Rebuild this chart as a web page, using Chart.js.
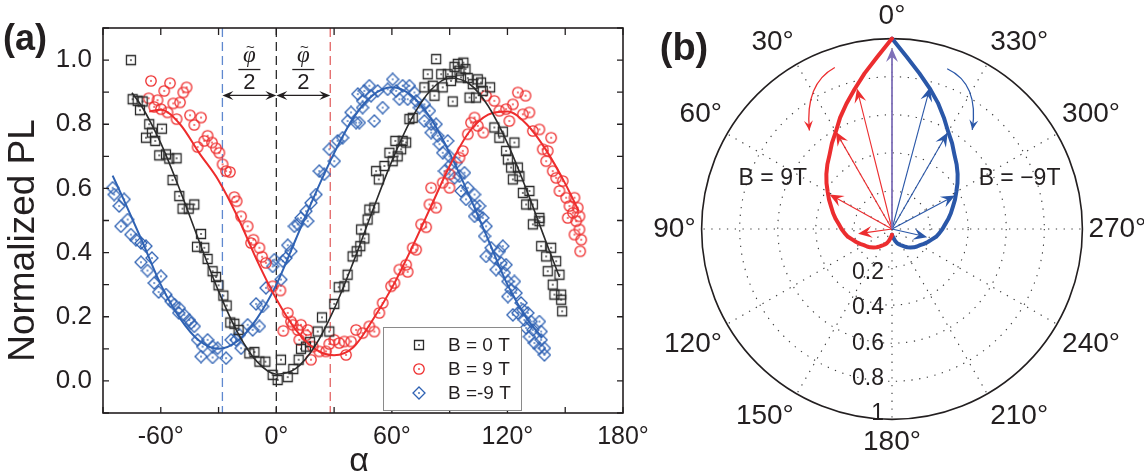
<!DOCTYPE html>
<html>
<head>
<meta charset="utf-8">
<script src="https://cdn.jsdelivr.net/npm/chart.js@4.4.0/dist/chart.umd.min.js"></script>
<style>
  html, body { margin: 0; padding: 0; background: #fff; width: 1144px; height: 475px; overflow: hidden; }
  #wrapA { position: absolute; left: 0; top: 0; }
  #wrapB { position: absolute; left: 640px; top: 0; }
</style>
</head>
<body>
<div id="wrapA"><canvas id="chartA" width="665" height="475"></canvas></div>
<div id="wrapB"><canvas id="chartB" width="520" height="460"></canvas></div>
<script>
// ---------- panel (a): measured points ----------
const alpha0T = [-75.5,-74.6,-72,-69.4,-70.8,-66,-59.4,-64.6,-67.7,-62.9,
  -60.8,-57.3,-55.6,-51.8,-53.9,-50.4,-48.7,-45.5,-42.6,-39.1,
  -41.2,-37.4,-35.7,-33.1,-31.3,-30,-27.5,-25.8,-23.9,-21.8,
  -19.6,-14,-11.4,-8.8,-5.7,-1.9,0.7,2.4,5.9,8.8,
  11.6,12.8,15.4,17.5,21.5,23.7,27.5,30.1,32.4,35.3,
  37,39.6,41.7,44,47.4,45.7,43.6,48.3,50.9,53.2,
  51.8,56.1,60.4,58.7,63,61.8,64.8,67.4,65.6,69.1,
  70.8,78.6,76.9,81.2,82.1,85.6,83,86.4,89,90.7,
  91.6,92.5,94.2,97.1,98.2,95.1,95.9,99.4,100.3,102,
  103.7,104.6,106.3,107.2,111,113.2,115.8,117.6,119.3,123.6,
  120.2,121.9,122.8,125.4,126.2,128,131.4,129.7,133.2,136.6,
  133.2,136.6,137.5,142.7,140.1,145.3,140.9,147,143.5,147.9,
  144.4,147.9,148.4];
const pl0T = [1.0,0.878,0.873,0.871,0.844,0.80,0.786,0.774,0.758,0.748,
  0.703,0.706,0.693,0.694,0.626,0.576,0.537,0.537,0.55,0.458,
  0.418,0.415,0.38,0.342,0.324,0.298,0.266,0.235,0.182,0.178,
  0.159,0.086,0.09,0.06,0.06,0.019,0.003,0.066,0.012,0.037,
  0.066,0.10,0.107,0.121,0.154,0.198,0.154,0.24,0.292,0.295,
  0.331,0.388,0.404,0.472,0.503,0.444,0.42,0.534,0.54,0.628,
  0.654,0.67,0.685,0.711,0.70,0.748,0.722,0.743,0.748,0.816,
  0.82,0.956,0.915,0.92,0.889,0.956,1.003,0.915,0.956,0.935,
  0.871,0.979,0.988,0.992,0.972,0.967,0.946,0.944,0.883,0.925,
  0.883,0.94,0.93,0.904,0.915,0.79,0.758,0.777,0.717,0.743,
  0.69,0.665,0.628,0.665,0.638,0.586,0.592,0.55,0.55,0.508,
  0.488,0.498,0.42,0.415,0.388,0.373,0.342,0.331,0.30,0.269,
  0.269,0.253,0.217];

const alpha9T = [-65.1,-55.2,-46.6,-48.3,-58.2,-66.3,-61.7,-63.4,-59.9,-53.5,
  -50,-56.5,-51.8,-44.8,-39.1,-42.6,-35.7,-37.4,-33.4,-31.3,
  -40.9,-29.6,-27.9,-24.1,-26.1,-21.8,-20.6,-18.3,-14.9,-11.9,
  -13.1,-8.8,-7.4,-5.4,-1.9,2.1,5.9,7.6,3.6,8.5,
  12.8,11.1,16.3,11.9,15.4,18.9,18,22.3,25.8,27.5,
  30.1,32.7,36.2,35.3,38.8,41.4,44.8,50.9,48.3,53.5,
  55.2,59.6,61.3,63.9,67.4,68.2,72.6,70.8,75.2,77.8,
  80.4,83,79.5,86.4,89.9,89.9,95.1,96.8,99.4,101.1,
  102.9,104.6,107.5,108.9,113.2,115.8,121,119.3,122.8,125.4,
  129.4,128,131.4,133.2,136.6,142.7,138.3,140.9,140.1,143.5,
  145.3,148.7,147,150.5,152.2,154.8,156.5,154,157.4,151.3,
  155.7,157.4,154.8,158.3,157.8];
const pl9T = [0.935,0.928,0.915,0.899,0.904,0.881,0.875,0.854,0.847,0.865,
  0.868,0.837,0.816,0.828,0.821,0.798,0.764,0.748,0.743,0.725,
  0.729,0.711,0.675,0.651,0.654,0.573,0.56,0.513,0.482,0.44,
  0.43,0.415,0.387,0.368,0.295,0.282,0.212,0.185,0.156,0.175,
  0.175,0.159,0.159,0.128,0.142,0.107,0.066,0.092,0.092,0.115,
  0.128,0.118,0.081,0.123,0.123,0.159,0.149,0.154,0.17,0.212,
  0.243,0.295,0.305,0.347,0.362,0.34,0.409,0.415,0.488,0.479,
  0.602,0.54,0.55,0.618,0.602,0.644,0.696,0.717,0.769,0.805,
  0.821,0.795,0.774,0.889,0.873,0.842,0.81,0.847,0.862,0.899,
  0.889,0.831,0.837,0.779,0.784,0.758,0.722,0.717,0.685,0.654,
  0.633,0.623,0.592,0.571,0.545,0.571,0.54,0.524,0.513,0.508,
  0.498,0.472,0.456,0.44,0.404];

const alphaM9T = [-85,-84.2,-81.6,-79,-80.7,-77.2,-75.5,-72.9,-70.3,-67.7,
  -70.3,-66.9,-64.6,-63.4,-59.9,-61.1,-57.3,-54.7,-53,-50.4,
  -50.7,-47.8,-45.2,-42.6,-44.3,-40.9,-35.7,-38.3,-33.1,-39.1,
  -33.1,-30.5,-26.1,-23.5,-20.9,-18.3,-19.2,-14.9,-12.3,-8.8,
  -10.5,-7.1,-5.4,-1.9,-1,2.4,5,3.3,5.9,7.6,
  9.4,11.1,12.8,16.3,15.4,18,20.6,22.3,24.9,27.5,
  30.1,31.8,34.4,37,38.8,41.4,42.3,44.8,43.1,45.7,
  48.3,49.2,44.8,50.9,52.6,55.2,57.8,60.4,62.2,63.9,
  65.6,69.1,68.2,71.7,72.6,74.3,76.9,79.5,76.9,80.4,
  83,80.4,83.8,84.7,89,86.4,89.9,87.3,90.7,93.4,
  92.5,95.1,97.7,95.9,99.4,98.5,102.9,102.9,105.5,104.6,
  102.9,107.2,108.9,108.1,111.5,108.9,113.2,115.8,117.6,116.7,
  114.1,119.3,118.4,120.2,123.6,121.9,120.2,124.5,127.1,122.8,
  125.4,128,130.6,128.8,132.3,136.6,129.7,133.2,137.5,131.4,
  134,137.5,139.2,136.6,139.2];
const plM9T = [0.602,0.581,0.545,0.566,0.482,0.503,0.456,0.44,0.43,0.42,
  0.37,0.344,0.383,0.305,0.326,0.277,0.269,0.248,0.238,0.227,
  0.212,0.206,0.19,0.17,0.18,0.128,0.128,0.107,0.107,0.076,
  0.073,0.102,0.071,0.128,0.128,0.102,0.144,0.175,0.159,0.17,
  0.24,0.232,0.29,0.357,0.378,0.316,0.383,0.373,0.423,0.404,
  0.482,0.488,0.508,0.498,0.529,0.555,0.581,0.654,0.644,0.722,
  0.685,0.748,0.758,0.81,0.837,0.805,0.894,0.873,0.805,0.904,
  0.92,0.889,0.852,0.81,0.904,0.852,0.909,0.94,0.904,0.878,
  0.92,0.92,0.878,0.899,0.873,0.852,0.862,0.842,0.81,0.8,
  0.8,0.774,0.764,0.738,0.748,0.711,0.70,0.654,0.675,0.68,
  0.633,0.638,0.649,0.592,0.602,0.566,0.581,0.545,0.545,0.519,
  0.513,0.508,0.482,0.451,0.415,0.388,0.383,0.404,0.42,0.368,
  0.347,0.362,0.337,0.31,0.31,0.284,0.263,0.274,0.243,0.206,
  0.212,0.222,0.212,0.19,0.185,0.185,0.165,0.159,0.154,0.138,
  0.118,0.128,0.102,0.102,0.081];

// fitted curves
const fitAlpha0T = [-75,-70,-60,-50,-40,-30,-20,-10,0,10,20,30,40,50,60,70,80,90,100,110,120,130,140,147];
const fit0T = [0.898,0.857,0.741,0.594,0.434,0.28,0.15,0.06,0.021,0.038,0.108,0.224,0.371,0.531,0.685,0.815,0.905,0.944,0.927,0.857,0.741,0.594,0.434,0.324];
const fitAlpha9T = [-66,-60,-50,-40,-30,-20,-10,0,10,20,30,40,50,60,70,80,90,100,110,120,130,140,150,157];
const fit9T = [0.84,0.845,0.80,0.71,0.625,0.51,0.375,0.255,0.16,0.10,0.08,0.105,0.19,0.29,0.41,0.54,0.67,0.775,0.83,0.84,0.80,0.72,0.615,0.53];
const fitAlphaM9T = [-85,-80,-70,-60,-50,-40,-30,-20,-10,0,10,20,30,40,50,60,70,80,90,100,110,120,130,138];
const fitM9T = [0.64,0.575,0.44,0.30,0.195,0.125,0.10,0.125,0.195,0.30,0.44,0.58,0.71,0.82,0.89,0.915,0.89,0.82,0.71,0.58,0.44,0.30,0.195,0.135];

const seriesNames = ['B = 0 T', 'B = 9 T', 'B =-9 T'];
const seriesColors = ['#2b2b2b', '#ee2c2c', '#2f62b3'];
const guideAlpha = [-28, 0, 28];
const guideColors = ['#5f88cf', '#2b2b2b', '#e36464'];
const arrowLevel = 0.89;
const phiLabelAlpha = [-14, 14];

// ---------- panel (b): polar lobes ----------
const polarStep = 5;
const polarTickAngles = [0, 30, 60, 90, 120, 150, 180, 210, 240, 270, 300, 330];
const ringValues = [0.2, 0.4, 0.6, 0.8, 1];
const lobeAngles = [0,5,10,15,20,25,30,35,40,45,50,55,60,65,70,75,80,85,90,95,100,105,110,115,120,125,130,135,140,145,150,155,160,165,170,175,180];
const redLobe = [1.0,0.905,0.83,0.76,0.70,0.645,0.59,0.55,0.51,0.48,0.45,0.42,0.39,0.365,0.34,0.32,0.30,0.28,0.265,0.25,0.235,0.215,0.20,0.185,0.17,0.16,0.15,0.137,0.125,0.112,0.10,0.09,0.08,0.065,0.05,0.04,0.03];
const blueLobe = [1.0,0.905,0.83,0.765,0.705,0.645,0.59,0.55,0.51,0.48,0.45,0.42,0.39,0.365,0.34,0.32,0.30,0.28,0.265,0.25,0.235,0.215,0.20,0.185,0.17,0.16,0.15,0.137,0.125,0.112,0.10,0.09,0.08,0.065,0.05,0.04,0.03];
// arrows: angle (deg, counter-clockwise from top) and length
const redArrowAngles = [14, 30, 61, 98];
const redArrowLengths = [0.76, 0.59, 0.375, 0.18];
const blueArrowAngles = [-15, -30, -62, -103];
const blueArrowLengths = [0.77, 0.585, 0.375, 0.19];
const centerArrow = [0, 0.95];

const FONT = "'Liberation Sans', Arial, Helvetica, sans-serif";
const INK = '#231f20';
Chart.defaults.font.family = FONT;
Chart.defaults.color = INK;

// hollow markers with a dot in the middle
function makeMarker(shape, color) {
  const c = document.createElement('canvas');
  c.width = 14; c.height = 14;
  const g = c.getContext('2d');
  g.strokeStyle = color; g.fillStyle = color; g.lineWidth = 1.3;
  g.beginPath();
  if (shape === 'square') g.rect(2.5, 2.5, 9, 9);
  else if (shape === 'circle') g.arc(7, 7, 5.2, 0, Math.PI * 2);
  else { g.moveTo(7, 1); g.lineTo(13, 7); g.lineTo(7, 13); g.lineTo(1, 7); g.closePath(); }
  g.stroke();
  g.fillRect(6.2, 6.2, 1.6, 1.6);
  return c;
}
const markers = [makeMarker('square', seriesColors[0]), makeMarker('circle', seriesColors[1]), makeMarker('diamond', seriesColors[2])];

function arrowHead(ctx, x, y, ang, len, half, color) {
  ctx.save();
  ctx.translate(x, y);
  ctx.rotate(ang);
  ctx.fillStyle = color;
  ctx.beginPath();
  ctx.moveTo(0, 0);
  ctx.lineTo(-len, -half);
  ctx.lineTo(-len * 0.62, 0);
  ctx.lineTo(-len, half);
  ctx.closePath();
  ctx.fill();
  ctx.restore();
}

const pts = (xs, ys) => xs.map((v, i) => ({ x: v, y: ys[i] }));

const panelA = {
  id: 'panelA',
  beforeDatasetsDraw(chart) {
    const { ctx, chartArea: a, scales: { x } } = chart;
    ctx.save();
    ctx.lineWidth = 1.3;
    ctx.setLineDash([9, 5]);
    guideAlpha.forEach((g, i) => {
      const px = x.getPixelForValue(g);
      ctx.strokeStyle = guideColors[i];
      ctx.beginPath(); ctx.moveTo(px, a.top); ctx.lineTo(px, a.bottom); ctx.stroke();
    });
    ctx.restore();
  },
  afterDraw(chart) {
    const { ctx, chartArea: a, scales: { x, y } } = chart;
    ctx.save();
    // frame + inward ticks
    ctx.strokeStyle = INK;
    ctx.lineWidth = 1.6;
    ctx.strokeRect(a.left, a.top, a.right - a.left, a.bottom - a.top);
    ctx.lineWidth = 1.3;
    ctx.beginPath();
    x.ticks.forEach(t => {
      const px = x.getPixelForValue(t.value);
      ctx.moveTo(px, a.bottom); ctx.lineTo(px, a.bottom - 6);
      ctx.moveTo(px, a.top); ctx.lineTo(px, a.top + 7);
    });
    y.ticks.forEach(t => {
      const py = y.getPixelForValue(t.value);
      ctx.moveTo(a.left, py); ctx.lineTo(a.left + 6, py);
      ctx.moveTo(a.right, py); ctx.lineTo(a.right - 6, py);
    });
    ctx.stroke();

    // phi/2 arrows
    const ay = y.getPixelForValue(arrowLevel);
    ctx.lineWidth = 1.2;
    for (let i = 0; i < guideAlpha.length - 1; i++) {
      const x0 = x.getPixelForValue(guideAlpha[i]);
      const x1 = x.getPixelForValue(guideAlpha[i + 1]);
      ctx.beginPath(); ctx.moveTo(x0 + 5, ay); ctx.lineTo(x1 - 5, ay); ctx.stroke();
      arrowHead(ctx, x0, ay, Math.PI, 11, 4.5, INK);
      arrowHead(ctx, x1, ay, 0, 11, 4.5, INK);
    }
    ctx.fillStyle = INK;
    ctx.textAlign = 'center';
    ctx.textBaseline = 'alphabetic';
    phiLabelAlpha.forEach(al => {
      const cx = x.getPixelForValue(al);
      ctx.font = "italic 23px 'Liberation Serif', 'DejaVu Serif', serif";
      ctx.fillText('\u03c6', cx, ay - 33);
      ctx.font = '15px ' + FONT;
      ctx.fillText('~', cx + 1, ay - 43);
      ctx.fillRect(cx - 11, ay - 26.5, 22, 1.3);
      ctx.font = '22px ' + FONT;
      ctx.fillText('2', cx, ay - 6);
    });

    // legend
    const lx = 383, ly = 327, lw = 138, lh = 83;
    ctx.fillStyle = '#fff';
    ctx.fillRect(lx, ly, lw, lh);
    ctx.strokeStyle = '#8a8a8a';
    ctx.lineWidth = 1;
    ctx.strokeRect(lx + 0.5, ly + 0.5, lw, lh);
    ctx.textAlign = 'left';
    ctx.textBaseline = 'middle';
    ctx.font = '19px ' + FONT;
    seriesNames.forEach((name, i) => {
      const ry = ly + 18 + i * 24;
      ctx.drawImage(markers[i], lx + 36 - 7, ry - 7);
      ctx.fillStyle = INK;
      ctx.fillText(name, lx + 65, ry + 1);
    });

    // axis titles and panel letter
    ctx.fillStyle = INK;
    ctx.textAlign = 'center';
    ctx.font = '34px ' + FONT;
    ctx.fillText('\u03b1', (a.left + a.right) / 2 - 4, 462);
    ctx.save();
    ctx.translate(24, (a.top + a.bottom) / 2 + 20);
    ctx.rotate(-Math.PI / 2);
    ctx.font = '37px ' + FONT;
    ctx.fillText('Normalized PL', 0, 0);
    ctx.restore();
    ctx.font = 'bold 36px ' + FONT;
    ctx.fillText('(a)', 25, 40);
    ctx.restore();
  }
};

new Chart(document.getElementById('chartA'), {
  type: 'scatter',
  data: {
    datasets: [
      { data: pts(fitAlpha0T, fit0T), showLine: true, borderColor: seriesColors[0], borderWidth: 1.6, pointRadius: 0, cubicInterpolationMode: 'monotone' },
      { data: pts(fitAlpha9T, fit9T), showLine: true, borderColor: seriesColors[1], borderWidth: 2, pointRadius: 0, cubicInterpolationMode: 'monotone' },
      { data: pts(fitAlphaM9T, fitM9T), showLine: true, borderColor: seriesColors[2], borderWidth: 2, pointRadius: 0, cubicInterpolationMode: 'monotone' },
      { label: seriesNames[0], data: pts(alpha0T, pl0T), pointStyle: markers[0], pointRadius: 5 },
      { label: seriesNames[1], data: pts(alpha9T, pl9T), pointStyle: markers[1], pointRadius: 5 },
      { label: seriesNames[2], data: pts(alphaM9T, plM9T), pointStyle: markers[2], pointRadius: 5 }
    ]
  },
  options: {
    responsive: false,
    animation: false,
    layout: { padding: { top: 28, right: 42, left: 0, bottom: 0 } },
    plugins: { legend: { display: false }, tooltip: { enabled: false } },
    scales: {
      x: {
        min: -90, max: 180,
        afterFit: s => { s.height = 62; },
        grid: { display: false, drawTicks: false },
        border: { display: false },
        ticks: {
          stepSize: 30, autoSkip: false, maxRotation: 0, padding: 9,
          font: { size: 25 }, color: INK,
          callback: v => (v % 60 === 0 ? v + '\u00b0' : '')
        }
      },
      y: {
        min: -0.1, max: 1.1,
        afterFit: s => { s.width = 103; },
        grid: { display: false, drawTicks: false },
        border: { display: false },
        ticks: {
          stepSize: 0.1, autoSkip: false, padding: 11,
          font: { size: 26 }, color: INK,
          callback: v => {
            const n = Math.round(v * 10);
            return n >= 0 && n <= 10 && n % 2 === 0 ? (n / 10).toFixed(1) : '';
          }
        }
      }
    }
  },
  plugins: [panelA]
});

// ---------- panel (b) ----------
const polarLabels = [];
const redR = [];
const blueR = [];
for (let i = 0; i < 360 / polarStep; i++) {
  const ccw = (360 - i * polarStep) % 360;
  polarLabels.push(polarTickAngles.includes(ccw) ? ccw + '\u00b0' : '');
  const kr = lobeAngles.indexOf(ccw);
  redR.push(kr >= 0 ? redLobe[kr] : null);
  const kb = lobeAngles.indexOf(i * polarStep);
  blueR.push(kb >= 0 ? blueLobe[kb] : null);
}

const panelB = {
  id: 'panelB',
  afterDatasetsDraw(chart) {
    const { ctx } = chart;
    const s = chart.scales.r;
    const pos = (theta, r) => s.getPointPositionForValue((((-theta) % 360) + 360) % 360 / polarStep, r);
    const cx = s.xCenter, cy = s.yCenter;
    ctx.save();

    const straightArrow = (theta, r, color, width) => {
      const p = pos(theta, r);
      const ang = Math.atan2(p.y - cy, p.x - cx);
      ctx.strokeStyle = color;
      ctx.lineWidth = width;
      ctx.beginPath();
      ctx.moveTo(cx, cy);
      ctx.lineTo(p.x - 8 * Math.cos(ang), p.y - 8 * Math.sin(ang));
      ctx.stroke();
      arrowHead(ctx, p.x, p.y, ang, 14, 6, color);
    };
    redArrowAngles.forEach((t, i) => straightArrow(t, redArrowLengths[i], '#ec2d2f', 1.1));
    blueArrowAngles.forEach((t, i) => straightArrow(t, blueArrowLengths[i], '#2a57a8', 1.1));
    straightArrow(centerArrow[0], centerArrow[1], '#7f70b8', 1.8);

    // rotation sense arrows
    const curved = (a0, c0, e0, color) => {
      const p0 = pos(a0[0], a0[1]), pc = pos(c0[0], c0[1]), pe = pos(e0[0], e0[1]);
      ctx.strokeStyle = color;
      ctx.lineWidth = 1.3;
      ctx.beginPath();
      ctx.moveTo(p0.x, p0.y);
      ctx.quadraticCurveTo(pc.x, pc.y, pe.x, pe.y);
      ctx.stroke();
      arrowHead(ctx, pe.x, pe.y, Math.atan2(pe.y - pc.y, pe.x - pc.x), 10, 4.5, color);
    };
    curved([19.5, 0.9], [31, 0.89], [40, 0.675], '#ec2d2f');
    curved([-19, 0.89], [-31, 0.89], [-39, 0.67], '#2a57a8');

    // radial value labels along 180 deg
    ctx.fillStyle = INK;
    ctx.font = '23px ' + FONT;
    ctx.textAlign = 'right';
    ctx.textBaseline = 'middle';
    ringValues.forEach(v => {
      const d = s.getDistanceFromCenterForValue(v);
      ctx.fillText(String(v), cx - 8, cy + d * 0.93 + 8);
    });

    // field labels
    ctx.textAlign = 'center';
    const l1 = pos(67, 0.68), l2 = pos(-68.5, 0.72);
    ctx.fillText('B = 9T', l1.x, l1.y);
    ctx.fillText('B = \u22129T', l2.x, l2.y);

    ctx.font = 'bold 38px ' + FONT;
    ctx.fillText('(b)', 44, 50);
    ctx.restore();
  }
};

new Chart(document.getElementById('chartB'), {
  type: 'radar',
  data: {
    labels: polarLabels,
    datasets: [
      { label: 'B = 9T', data: redR, borderColor: '#ec2d2f', borderWidth: 4, pointRadius: 0, fill: false, spanGaps: false },
      { label: 'B = -9T', data: blueR, borderColor: '#2a57a8', borderWidth: 4, pointRadius: 0, fill: false, spanGaps: false }
    ]
  },
  options: {
    responsive: false,
    animation: false,
    layout: { padding: 0 },
    plugins: { legend: { display: false }, tooltip: { enabled: false } },
    elements: { line: { tension: 0, borderJoinStyle: 'round', borderCapStyle: 'round' } },
    scales: {
      r: {
        min: 0, max: 1,
        ticks: { stepSize: 0.2, display: false },
        grid: {
          circular: true,
          color: c => (c.tick && c.tick.value >= 1 ? INK : '#3a3a3a'),
          lineWidth: c => (c.tick && c.tick.value >= 1 ? 1.6 : 1.1)
        },
        border: { dash: c => (c.tick && c.tick.value >= 1 ? [] : [1.3, 6.5]) },
        angleLines: {
          color: '#3a3a3a',
          lineWidth: c => (c.index % 6 === 0 ? 1.1 : 0),
          borderDash: [1.3, 6.5]
        },
        pointLabels: { font: { family: FONT, size: 28 }, color: INK, padding: 6 }
      }
    }
  },
  plugins: [panelB]
});
</script>
</body>
</html>
